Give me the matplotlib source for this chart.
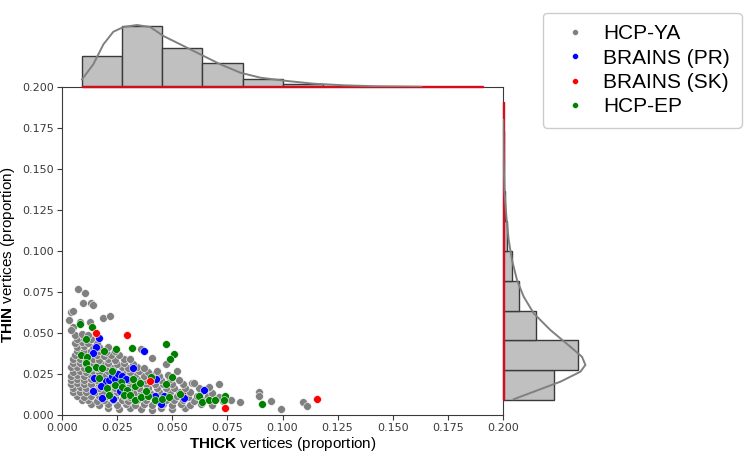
import numpy as np
import matplotlib
matplotlib.use('Agg')
import matplotlib.pyplot as plt
from matplotlib.lines import Line2D

plt.rcParams['mathtext.fontset'] = 'custom'
plt.rcParams['mathtext.rm'] = 'Liberation Sans'
plt.rcParams['mathtext.bf'] = 'Liberation Sans:bold'

# scatter points (THICK proportion, THIN proportion)
hcp_ya = [
    (0.021, 0.0040), (0.026, 0.0035), (0.031, 0.0042), (0.036, 0.0038), (0.041, 0.0033), (0.045, 0.0040),
    (0.050, 0.0036), (0.056, 0.0042),
    (0.013, 0.0065), (0.017, 0.0060), (0.021, 0.0068), (0.025, 0.0062), (0.029, 0.0066), (0.033, 0.0061),
    (0.037, 0.0067), (0.041, 0.0063), (0.046, 0.0066), (0.050, 0.0061), (0.054, 0.0067), (0.058, 0.0063),
    (0.063, 0.0066), (0.068, 0.0062),
    (0.009, 0.0090), (0.012, 0.0094), (0.016, 0.0088), (0.019, 0.0093), (0.023, 0.0089), (0.027, 0.0092),
    (0.030, 0.0087), (0.034, 0.0093), (0.038, 0.0090), (0.043, 0.0088), (0.047, 0.0094), (0.051, 0.0089),
    (0.055, 0.0092), (0.060, 0.0088), (0.064, 0.0093), (0.069, 0.0089), (0.073, 0.0087),
    (0.007, 0.0115), (0.010, 0.0112), (0.013, 0.0118), (0.017, 0.0113), (0.020, 0.0117), (0.024, 0.0112),
    (0.028, 0.0116), (0.031, 0.0111), (0.035, 0.0117), (0.039, 0.0114), (0.043, 0.0119), (0.047, 0.0113),
    (0.052, 0.0117), (0.057, 0.0112), (0.061, 0.0116), (0.066, 0.0113), (0.071, 0.0110),
    (0.005, 0.0140), (0.008, 0.0143), (0.011, 0.0138), (0.015, 0.0142), (0.018, 0.0137), (0.022, 0.0141),
    (0.025, 0.0138), (0.029, 0.0143), (0.033, 0.0139), (0.036, 0.0142), (0.040, 0.0137), (0.044, 0.0141),
    (0.049, 0.0138), (0.053, 0.0143), (0.058, 0.0139), (0.063, 0.0141), (0.068, 0.0137),
    (0.005, 0.0165), (0.008, 0.0168), (0.011, 0.0163), (0.014, 0.0167), (0.017, 0.0162), (0.021, 0.0166),
    (0.024, 0.0163), (0.028, 0.0168), (0.031, 0.0164), (0.035, 0.0167), (0.039, 0.0162), (0.043, 0.0166),
    (0.047, 0.0163), (0.051, 0.0167), (0.056, 0.0162), (0.062, 0.0166), (0.066, 0.0164),
    (0.004, 0.0190), (0.007, 0.0193), (0.010, 0.0188), (0.013, 0.0192), (0.017, 0.0187), (0.020, 0.0191),
    (0.023, 0.0188), (0.027, 0.0193), (0.031, 0.0189), (0.034, 0.0192), (0.038, 0.0187), (0.042, 0.0191),
    (0.046, 0.0188), (0.050, 0.0192), (0.055, 0.0189), (0.059, 0.0193),
    (0.004, 0.0215), (0.007, 0.0218), (0.010, 0.0213), (0.013, 0.0217), (0.016, 0.0212), (0.020, 0.0216),
    (0.023, 0.0213), (0.026, 0.0218), (0.030, 0.0214), (0.034, 0.0217), (0.038, 0.0212), (0.041, 0.0216),
    (0.045, 0.0213), (0.049, 0.0217), (0.053, 0.0214),
    (0.004, 0.0240), (0.007, 0.0243), (0.010, 0.0238), (0.013, 0.0242), (0.016, 0.0237), (0.019, 0.0241),
    (0.023, 0.0238), (0.026, 0.0243), (0.030, 0.0239), (0.033, 0.0242), (0.037, 0.0237), (0.041, 0.0241),
    (0.044, 0.0238), (0.048, 0.0242),
    (0.005, 0.0265), (0.008, 0.0268), (0.011, 0.0263), (0.014, 0.0267), (0.017, 0.0262), (0.021, 0.0266),
    (0.024, 0.0263), (0.028, 0.0268), (0.031, 0.0264), (0.035, 0.0267), (0.039, 0.0262), (0.043, 0.0266),
    (0.004, 0.0290), (0.007, 0.0293), (0.010, 0.0288), (0.013, 0.0292), (0.016, 0.0287), (0.020, 0.0291),
    (0.023, 0.0288), (0.027, 0.0293), (0.030, 0.0289), (0.034, 0.0292), (0.037, 0.0287),
    (0.005, 0.0315), (0.008, 0.0318), (0.011, 0.0313), (0.014, 0.0317), (0.018, 0.0312), (0.021, 0.0316),
    (0.025, 0.0313), (0.028, 0.0318), (0.032, 0.0314),
    (0.005, 0.0340), (0.008, 0.0343), (0.011, 0.0338), (0.014, 0.0342), (0.017, 0.0337), (0.021, 0.0341),
    (0.024, 0.0338), (0.028, 0.0343), (0.031, 0.0339),
    (0.006, 0.0365), (0.009, 0.0368), (0.012, 0.0363), (0.016, 0.0367), (0.019, 0.0362), (0.022, 0.0366),
    (0.026, 0.0363),
    (0.007, 0.0390), (0.010, 0.0393), (0.013, 0.0388), (0.017, 0.0392), (0.020, 0.0387), (0.024, 0.0391),
    (0.007, 0.0415), (0.010, 0.0418), (0.014, 0.0413), (0.017, 0.0417), (0.021, 0.0412),
    (0.006, 0.0440), (0.009, 0.0443), (0.012, 0.0438), (0.016, 0.0442),
    (0.007, 0.0465), (0.010, 0.0468), (0.013, 0.0463),
    (0.006, 0.0490), (0.009, 0.0493), (0.012, 0.0488),
    (0.0051, 0.0538), (0.0040, 0.0520), (0.0082, 0.0567), (0.0127, 0.0567), (0.0033, 0.0579),
    (0.0188, 0.0591), (0.0218, 0.0604), (0.0040, 0.0628), (0.0051, 0.0636), (0.0097, 0.0681),
    (0.0130, 0.0681), (0.0139, 0.0669), (0.0105, 0.0742), (0.0074, 0.0767),
    (0.036, 0.0400), (0.041, 0.0350), (0.047, 0.0310), (0.052, 0.0270), (0.060, 0.0195),
    (0.0668, 0.0169), (0.0711, 0.0187), (0.0768, 0.0091), (0.0806, 0.0079), (0.0892, 0.0138),
    (0.0892, 0.0118), (0.0949, 0.0085), (0.0995, 0.0037), (0.1092, 0.0081), (0.1109, 0.0057),
]
brains_pr = [
    (0.0168, 0.0471), (0.0153, 0.0417), (0.0139, 0.0376), (0.0374, 0.0390), (0.0324, 0.0285),
    (0.0147, 0.0227), (0.0201, 0.0207), (0.0215, 0.0213), (0.0229, 0.0238), (0.0241, 0.0218),
    (0.0256, 0.0250), (0.0271, 0.0238), (0.0292, 0.0218), (0.0426, 0.0220), (0.0177, 0.0177),
    (0.0139, 0.0148), (0.0261, 0.0148), (0.0183, 0.0105), (0.0233, 0.0098), (0.0423, 0.0116),
    (0.0450, 0.0067), (0.0461, 0.0118), (0.0555, 0.0105), (0.0645, 0.0152),
]
brains_sk = [
    (0.0153, 0.0500), (0.0295, 0.0488), (0.0400, 0.0205), (0.0741, 0.0045), (0.1158, 0.0098),
]
brains_sk_hidden = [(0.0142, 0.0315), (0.0218, 0.0340), (0.0559, 0.0145)]
hcp_ep = [
    (0.0082, 0.0553), (0.0135, 0.0538), (0.0108, 0.0462), (0.0192, 0.0392), (0.0247, 0.0402),
    (0.0317, 0.0409), (0.0473, 0.0433), (0.0510, 0.0372), (0.0492, 0.0340), (0.0086, 0.0364),
    (0.0114, 0.0352), (0.0111, 0.0319), (0.0120, 0.0279), (0.0156, 0.0291), (0.0180, 0.0285),
    (0.0226, 0.0268), (0.0499, 0.0234), (0.0405, 0.0230), (0.0170, 0.0223), (0.0268, 0.0201),
    (0.0241, 0.0181), (0.0203, 0.0165), (0.0271, 0.0173), (0.0294, 0.0152), (0.0279, 0.0122),
    (0.0309, 0.0122), (0.0214, 0.0120), (0.0332, 0.0091), (0.0359, 0.0112), (0.0392, 0.0116),
    (0.0380, 0.0148), (0.0332, 0.0177), (0.0423, 0.0091), (0.0453, 0.0098), (0.0486, 0.0112),
    (0.0473, 0.0189), (0.0355, 0.0197), (0.0320, 0.0221), (0.0533, 0.0128), (0.0623, 0.0116),
    (0.0635, 0.0081), (0.0665, 0.0091), (0.0695, 0.0091), (0.0741, 0.0118), (0.0736, 0.0091),
    (0.0905, 0.0065),
]

# marginal histograms (shared bin edges, relative heights)
hist_bins = [0.0091, 0.0273, 0.0455, 0.0637, 0.0819, 0.1001, 0.1183, 0.1365, 0.1547, 0.1729, 0.1911]
thick_hist_ya = [30.7, 61.0, 39.3, 23.7, 8.3, 3.5, 1.5, 0.5, 0.2, 0.1]
thin_hist_ya = [51.4, 75.4, 33.4, 16.0, 9.4, 4.0, 2.0, 1.0, 0.5, 0.2]
hist_other = [0.6, 0.6, 0.6, 0.6, 0.6, 0.6, 0.6, 0.6, 0.6, 0.6]

# KDE curves of HCP-YA
thick_kde_x = [0.0091, 0.0142, 0.0188, 0.0233, 0.0279, 0.0340, 0.0400, 0.0460, 0.0536, 0.0627,
               0.0718, 0.0809, 0.0900, 0.1021, 0.1142, 0.1279, 0.1430, 0.1630]
thick_kde_y = [7.7, 22.7, 42.7, 55.3, 60.0, 62.0, 60.0, 51.0, 42.7, 32.7,
               22.7, 14.3, 9.3, 6.0, 3.3, 1.7, 0.7, 0.2]
thin_kde_y = [0.0096, 0.0142, 0.0203, 0.0264, 0.0305, 0.0355, 0.0416, 0.0518, 0.0620, 0.0721,
              0.0823, 0.0945, 0.1067, 0.1209, 0.1372, 0.1550, 0.1800]
thin_kde_x = [10.7, 30.7, 57.4, 77.4, 82.4, 79.0, 67.4, 47.4, 30.7, 20.7,
              14.0, 9.0, 5.7, 3.4, 1.4, 0.7, 0.2]

labels = ['HCP-YA', 'BRAINS (PR)', 'BRAINS (SK)', 'HCP-EP']
colors = ['gray', 'blue', 'red', 'green']

W, H = 750, 459
fig = plt.figure(figsize=(7.5, 4.59), dpi=100)
ax = fig.add_axes([62 / W, 1 - 415 / H, 441 / W, 328 / H])
ax_top = fig.add_axes([62 / W, 1 - 87 / H, 441 / W, 87 / H])
ax_right = fig.add_axes([503 / W, 1 - 415 / H, 100 / W, 328 / H])

# scatter
def draw(points, color, z):
    xs, ys = zip(*points)
    ax.scatter(xs, ys, s=32, color=color, edgecolors='white', linewidths=0.4, zorder=z)

draw(brains_sk_hidden, 'red', 1)
draw(hcp_ya, 'gray', 2)
draw(brains_pr, 'blue', 3)
draw(hcp_ep, 'green', 4)
draw(brains_sk, 'red', 5)

ax.set_xlim(0, 0.2)
ax.set_ylim(0, 0.2)
ticks = np.arange(0, 0.2001, 0.025)
ax.set_xticks(ticks)
ax.set_yticks(ticks)
ax.xaxis.set_major_formatter(plt.FormatStrFormatter('%.3f'))
ax.yaxis.set_major_formatter(plt.FormatStrFormatter('%.3f'))
ax.tick_params(labelsize=8, labelcolor='#3a3a3a', color='#3a3a3a', length=3.5, width=0.8, pad=2.5)
for sp in ax.spines.values():
    sp.set_color('#3a3a3a')
    sp.set_linewidth(0.8)

fig.text(283 / W, 1 - 444 / H, r'$\mathbf{THICK}$ vertices (proportion)',
         ha='center', va='center', fontsize=11, family='Liberation Sans')
fig.text(8 / W, 1 - 255 / H, r'$\mathbf{THIN}$ vertices (proportion)', rotation=90,
         ha='center', va='center', fontsize=11, family='Liberation Sans')

# top marginal
widths = np.diff(hist_bins)
ax_top.bar(hist_bins[:-1], thick_hist_ya, width=widths, align='edge', color='#c0c0c0',
           edgecolor='#3a3a3a', linewidth=1.0)
ax_top.bar(hist_bins[:4], hist_other[:4], width=widths[:4], align='edge', color='green',
           edgecolor='green', linewidth=0.8, clip_on=False)
ax_top.bar(hist_bins[:-1], hist_other, width=widths, align='edge', color='#d01020',
           edgecolor='#d01020', linewidth=1.0, clip_on=False)
ax_top.plot(thick_kde_x, thick_kde_y, color='gray', linewidth=1.4)
ax_top.set_xlim(0, 0.2)
ax_top.set_ylim(0, 87)
ax_top.axis('off')

# right marginal
ax_right.barh(hist_bins[:-1], thin_hist_ya, height=widths, align='edge', color='#c0c0c0',
              edgecolor='#3a3a3a', linewidth=1.0)
ax_right.barh(hist_bins[:2], hist_other[:2], height=widths[:2], align='edge', color='#7030c0',
              edgecolor='#7030c0', linewidth=0.8, clip_on=False)
ax_right.barh(hist_bins[:-1], hist_other, height=widths, align='edge', color='#d01020',
              edgecolor='#d01020', linewidth=1.0, clip_on=False)
ax_right.plot(thin_kde_x, thin_kde_y, color='gray', linewidth=1.4)
ax_right.set_ylim(0, 0.2)
ax_right.set_xlim(0, 100)
ax_right.axis('off')

handles = [Line2D([], [], marker='o', linestyle='none', markersize=4.2, color=c,
                  markeredgecolor='white', markeredgewidth=0.3) for c in colors]
leg = fig.legend(handles, labels, loc='upper left', bbox_to_anchor=(543 / W, 1 - 13 / H),
                 borderaxespad=0, prop={'family': 'Liberation Sans', 'size': 15},
                 handletextpad=0.35, labelspacing=0.25, borderpad=0.55,
                 frameon=True, edgecolor='#cccccc', framealpha=1)

fig.savefig('out.png', dpi=100)
